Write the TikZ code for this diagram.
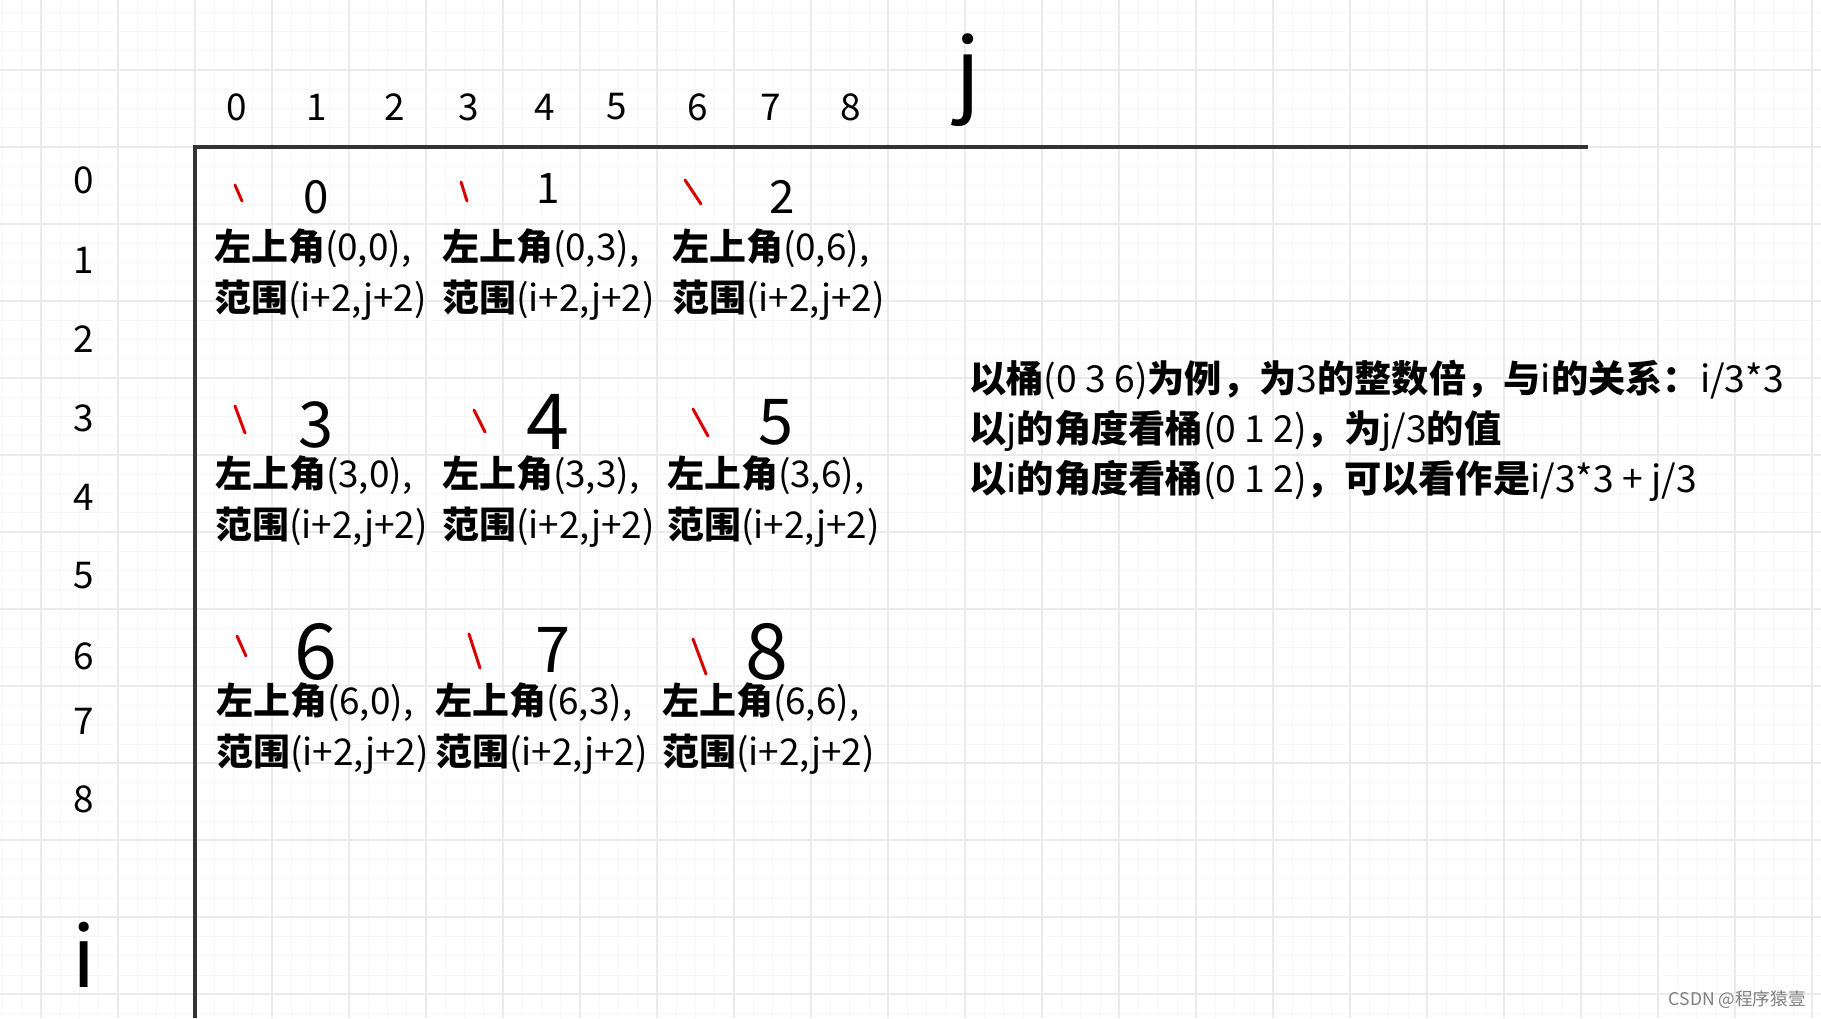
\documentclass[tikz,border=0pt]{standalone}
\usepackage{fontspec}
\setmainfont{Noto Sans CJK SC}

\begin{document}
\begin{tikzpicture}[x=0.02cm,y=-0.02cm]
	\tikzstyle {grid minor} = [draw=black!3, line width=0.3pt]
	\tikzstyle {grid major} = [draw=black!8, line width=0.8pt]
	\tikzstyle {axis line} = [draw=black!80, line width=2pt]
	\tikzstyle {axis num} = [inner sep=0pt, font=\fontsize{21}{21}\selectfont]
	\tikzstyle {red tick} = [draw=red!85!black, line width=1.7pt, line cap=round]
	\tikzstyle {bucket} = [inner sep=0pt, font=\fontsize{36}{36}\selectfont]
	\tikzstyle {corner text} = [inner sep=0pt, anchor=west, align=left, font=\fontsize{21}{29}\selectfont]

	\useasboundingbox (0,0) rectangle (1821,1018);
	\fill[white] (0,0) rectangle (1821,1018);

	% grid paper
	\foreach \gx in {2.5,21.75,...,1821} \draw[grid minor] (\gx,0) -- (\gx,1018);
	\foreach \gy in {12.25,31.5,...,1018} \draw[grid minor] (0,\gy) -- (1821,\gy);
	\foreach \gx in {41,118,...,1821} \draw[grid major] (\gx,0) -- (\gx,1018);
	\foreach \gy in {70,147,...,1018} \draw[grid major] (0,\gy) -- (1821,\gy);

	% axes
	\coordinate (origin) at (195,147);
	\coordinate (jend) at (1588,147);
	\coordinate (iend) at (195,1018);
	\draw[axis line] (jend) -- (origin) -- (iend);

	\foreach \lab/\px in {0/237,1/317,2/395,3/469,4/545,5/617,6/698,7/771,8/851}
		\node[axis num] (col\lab) at (\px,107) {\lab};
	\foreach \lab/\py in {0/180,1/260,2/339,3/418,4/497,5/576,6/656,7/721,8/799}
		\node[axis num] (row\lab) at (84,\py) {\lab};

	\node[inner sep=0pt, font=\fontsize{52}{52}\selectfont] (jlab) at (968,80) {j};
	\node[inner sep=0pt, font=\fontsize{48}{48}\selectfont] (ilab) at (84,955) {i};

	% bucket marks
	\draw[red tick] (235,185) -- (242,201);
	\draw[red tick] (461,182) -- (467,201);
	\draw[red tick] (685,180) -- (701,204);
	\draw[red tick] (235,406) -- (245,433);
	\draw[red tick] (474,410) -- (485,432);
	\draw[red tick] (693,409) -- (708,436);
	\draw[red tick] (237,636) -- (246,656);
	\draw[red tick] (469,634) -- (480,668);
	\draw[red tick] (693,639) -- (706,674);

	\node[bucket, font=\fontsize{26}{26}\selectfont] (b0) at (316,197) {0};
	\node[bucket, font=\fontsize{24}{24}\selectfont] (b1) at (548,188) {1};
	\node[bucket, font=\fontsize{26}{26}\selectfont] (b2) at (782,197) {2};
	\node[bucket] (b3) at (316,425) {3};
	\node[bucket, font=\fontsize{44}{44}\selectfont] (b4) at (548,422) {4};
	\node[bucket] (b5) at (776,422) {5};
	\node[bucket, font=\fontsize{44}{44}\selectfont] (b6) at (316,652) {6};
	\node[bucket] (b7) at (553,650) {7};
	\node[bucket, font=\fontsize{44}{44}\selectfont] (b8) at (767,652) {8};

	% top-left corners
	\node[corner text] (c0) at (214,275) {\textbf{左上角}(0,0),\\\textbf{范围}(i+2,j+2)};
	\node[corner text] (c1) at (442,275) {\textbf{左上角}(0,3),\\\textbf{范围}(i+2,j+2)};
	\node[corner text] (c2) at (672,275) {\textbf{左上角}(0,6),\\\textbf{范围}(i+2,j+2)};
	\node[corner text] (c3) at (215,502) {\textbf{左上角}(3,0),\\\textbf{范围}(i+2,j+2)};
	\node[corner text] (c4) at (442,502) {\textbf{左上角}(3,3),\\\textbf{范围}(i+2,j+2)};
	\node[corner text] (c5) at (667,502) {\textbf{左上角}(3,6),\\\textbf{范围}(i+2,j+2)};
	\node[corner text] (c6) at (216,729) {\textbf{左上角}(6,0),\\\textbf{范围}(i+2,j+2)};
	\node[corner text] (c7) at (435,729) {\textbf{左上角}(6,3),\\\textbf{范围}(i+2,j+2)};
	\node[corner text] (c8) at (662,729) {\textbf{左上角}(6,6),\\\textbf{范围}(i+2,j+2)};

	% relation of i, j and bucket
	\node[corner text, font=\fontsize{21.2}{28.5}\selectfont] (note) at (969,431)
		{\textbf{以桶}(0 3 6)\textbf{为例，为}3\textbf{的整数倍，与}i\textbf{的关系：}i/3*3\\
		 \textbf{以}j\textbf{的角度看桶}(0 1 2)\textbf{，为}j/3\textbf{的值}\\
		 \textbf{以}i\textbf{的角度看桶}(0 1 2)\textbf{，可以看作是}i/3*3 + j/3};

	\node[inner sep=0pt, anchor=east, text=black!50, font=\fontsize{10}{10}\selectfont] (mark) at (1806,1000) {CSDN @程序猿壹};
\end{tikzpicture}
\end{document}
